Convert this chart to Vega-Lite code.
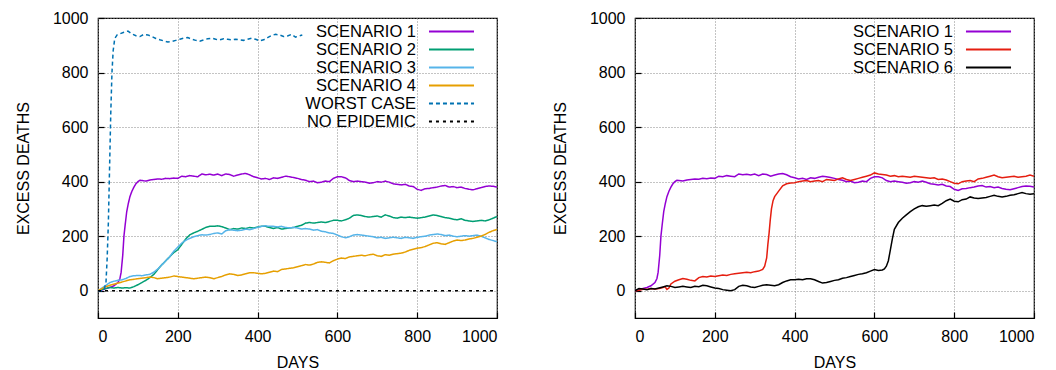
{
  "$schema": "https://vega.github.io/schema/vega-lite/v6.json",
  "padding": {"left": 14, "top": 9, "right": 5, "bottom": 0},
  "background": "white",
  "config": {
    "font": "Liberation Sans",
    "view": {"stroke": "black", "strokeWidth": 1.2},
    "axis": {
      "labelFont": "Liberation Sans", "labelFontSize": 16, "labelColor": "black", "format": "d",
      "titleFont": "Liberation Sans", "titleFontSize": 16, "titleFontWeight": "normal", "titleColor": "black",
      "grid": true, "gridColor": "#888888", "gridDash": [1, 2], "gridWidth": 1, "gridOpacity": 1,
      "domain": false, "ticks": true, "tickColor": "black", "tickSize": -6, "tickWidth": 1.2
    },
    "axisX": {"labelPadding": 16, "titlePadding": 10, "labelFontSize": 16},
    "axisY": {"labelPadding": 16, "titlePadding": 21, "labelFontSize": 16},
    "legend": {
      "orient": "none", "legendX": 342, "legendY": 2, "title": null, "padding": 2,
      "labelFont": "Liberation Sans", "labelFontSize": 16.5, "labelColor": "black",
      "symbolType": "M-2.65,0H2.65", "symbolSize": 289, "symbolStrokeWidth": 2,
      "labelAlign": "right", "labelOffset": -45, "rowPadding": 0, "labelLimit": 300
    }
  },
  "spacing": 52,
  "resolve": {"scale": {"color": "independent", "strokeDash": "independent"}, "legend": {"color": "independent", "strokeDash": "independent"}},
  "datasets": {
    "left": [
      {"series":"SCENARIO 1","day":0,"deaths":0},{"series":"SCENARIO 1","day":10,"deaths":3},{"series":"SCENARIO 1","day":20,"deaths":8},{"series":"SCENARIO 1","day":30,"deaths":12},{"series":"SCENARIO 1","day":40,"deaths":18},{"series":"SCENARIO 1","day":50,"deaths":30},{"series":"SCENARIO 1","day":55,"deaths":45},{"series":"SCENARIO 1","day":58,"deaths":68},{"series":"SCENARIO 1","day":62,"deaths":130},{"series":"SCENARIO 1","day":65,"deaths":200},{"series":"SCENARIO 1","day":68,"deaths":240},{"series":"SCENARIO 1","day":72,"deaths":290},{"series":"SCENARIO 1","day":76,"deaths":320},{"series":"SCENARIO 1","day":80,"deaths":345},{"series":"SCENARIO 1","day":85,"deaths":365},{"series":"SCENARIO 1","day":90,"deaths":380},{"series":"SCENARIO 1","day":95,"deaths":392},{"series":"SCENARIO 1","day":100,"deaths":400},{"series":"SCENARIO 1","day":105,"deaths":405},{"series":"SCENARIO 1","day":110,"deaths":404},{"series":"SCENARIO 1","day":120,"deaths":402},{"series":"SCENARIO 1","day":130,"deaths":406},{"series":"SCENARIO 1","day":140,"deaths":408},{"series":"SCENARIO 1","day":150,"deaths":410},{"series":"SCENARIO 1","day":160,"deaths":409},{"series":"SCENARIO 1","day":170,"deaths":412},{"series":"SCENARIO 1","day":180,"deaths":411},{"series":"SCENARIO 1","day":190,"deaths":413},{"series":"SCENARIO 1","day":200,"deaths":412},{"series":"SCENARIO 1","day":210,"deaths":420},{"series":"SCENARIO 1","day":220,"deaths":418},{"series":"SCENARIO 1","day":230,"deaths":422},{"series":"SCENARIO 1","day":240,"deaths":420},{"series":"SCENARIO 1","day":250,"deaths":418},{"series":"SCENARIO 1","day":260,"deaths":428},{"series":"SCENARIO 1","day":270,"deaths":425},{"series":"SCENARIO 1","day":280,"deaths":427},{"series":"SCENARIO 1","day":290,"deaths":424},{"series":"SCENARIO 1","day":300,"deaths":428},{"series":"SCENARIO 1","day":310,"deaths":422},{"series":"SCENARIO 1","day":320,"deaths":428},{"series":"SCENARIO 1","day":330,"deaths":426},{"series":"SCENARIO 1","day":340,"deaths":420},{"series":"SCENARIO 1","day":350,"deaths":424},{"series":"SCENARIO 1","day":360,"deaths":428},{"series":"SCENARIO 1","day":370,"deaths":430},{"series":"SCENARIO 1","day":380,"deaths":425},{"series":"SCENARIO 1","day":390,"deaths":418},{"series":"SCENARIO 1","day":400,"deaths":414},{"series":"SCENARIO 1","day":410,"deaths":410},{"series":"SCENARIO 1","day":420,"deaths":412},{"series":"SCENARIO 1","day":430,"deaths":408},{"series":"SCENARIO 1","day":440,"deaths":414},{"series":"SCENARIO 1","day":450,"deaths":412},{"series":"SCENARIO 1","day":460,"deaths":416},{"series":"SCENARIO 1","day":470,"deaths":420},{"series":"SCENARIO 1","day":480,"deaths":418},{"series":"SCENARIO 1","day":490,"deaths":415},{"series":"SCENARIO 1","day":500,"deaths":412},{"series":"SCENARIO 1","day":510,"deaths":408},{"series":"SCENARIO 1","day":520,"deaths":405},{"series":"SCENARIO 1","day":530,"deaths":400},{"series":"SCENARIO 1","day":540,"deaths":402},{"series":"SCENARIO 1","day":550,"deaths":396},{"series":"SCENARIO 1","day":560,"deaths":398},{"series":"SCENARIO 1","day":570,"deaths":402},{"series":"SCENARIO 1","day":580,"deaths":400},{"series":"SCENARIO 1","day":590,"deaths":412},{"series":"SCENARIO 1","day":600,"deaths":418},{"series":"SCENARIO 1","day":610,"deaths":418},{"series":"SCENARIO 1","day":620,"deaths":414},{"series":"SCENARIO 1","day":630,"deaths":404},{"series":"SCENARIO 1","day":640,"deaths":400},{"series":"SCENARIO 1","day":650,"deaths":402},{"series":"SCENARIO 1","day":660,"deaths":400},{"series":"SCENARIO 1","day":670,"deaths":398},{"series":"SCENARIO 1","day":680,"deaths":394},{"series":"SCENARIO 1","day":690,"deaths":396},{"series":"SCENARIO 1","day":700,"deaths":400},{"series":"SCENARIO 1","day":710,"deaths":398},{"series":"SCENARIO 1","day":720,"deaths":402},{"series":"SCENARIO 1","day":730,"deaths":398},{"series":"SCENARIO 1","day":740,"deaths":392},{"series":"SCENARIO 1","day":750,"deaths":390},{"series":"SCENARIO 1","day":760,"deaths":388},{"series":"SCENARIO 1","day":770,"deaths":390},{"series":"SCENARIO 1","day":780,"deaths":384},{"series":"SCENARIO 1","day":790,"deaths":382},{"series":"SCENARIO 1","day":800,"deaths":372},{"series":"SCENARIO 1","day":810,"deaths":368},{"series":"SCENARIO 1","day":820,"deaths":374},{"series":"SCENARIO 1","day":830,"deaths":375},{"series":"SCENARIO 1","day":840,"deaths":378},{"series":"SCENARIO 1","day":850,"deaths":380},{"series":"SCENARIO 1","day":860,"deaths":384},{"series":"SCENARIO 1","day":870,"deaths":386},{"series":"SCENARIO 1","day":880,"deaths":380},{"series":"SCENARIO 1","day":890,"deaths":382},{"series":"SCENARIO 1","day":900,"deaths":378},{"series":"SCENARIO 1","day":910,"deaths":380},{"series":"SCENARIO 1","day":920,"deaths":375},{"series":"SCENARIO 1","day":930,"deaths":372},{"series":"SCENARIO 1","day":940,"deaths":370},{"series":"SCENARIO 1","day":950,"deaths":374},{"series":"SCENARIO 1","day":960,"deaths":378},{"series":"SCENARIO 1","day":970,"deaths":382},{"series":"SCENARIO 1","day":980,"deaths":384},{"series":"SCENARIO 1","day":990,"deaths":383},{"series":"SCENARIO 1","day":1000,"deaths":380},
      {"series":"SCENARIO 2","day":0,"deaths":0},{"series":"SCENARIO 2","day":10,"deaths":5},{"series":"SCENARIO 2","day":20,"deaths":8},{"series":"SCENARIO 2","day":30,"deaths":12},{"series":"SCENARIO 2","day":40,"deaths":10},{"series":"SCENARIO 2","day":50,"deaths":12},{"series":"SCENARIO 2","day":60,"deaths":10},{"series":"SCENARIO 2","day":70,"deaths":11},{"series":"SCENARIO 2","day":80,"deaths":10},{"series":"SCENARIO 2","day":90,"deaths":15},{"series":"SCENARIO 2","day":100,"deaths":22},{"series":"SCENARIO 2","day":110,"deaths":30},{"series":"SCENARIO 2","day":120,"deaths":38},{"series":"SCENARIO 2","day":130,"deaths":48},{"series":"SCENARIO 2","day":140,"deaths":60},{"series":"SCENARIO 2","day":150,"deaths":78},{"series":"SCENARIO 2","day":160,"deaths":95},{"series":"SCENARIO 2","day":170,"deaths":110},{"series":"SCENARIO 2","day":180,"deaths":125},{"series":"SCENARIO 2","day":190,"deaths":140},{"series":"SCENARIO 2","day":200,"deaths":150},{"series":"SCENARIO 2","day":210,"deaths":170},{"series":"SCENARIO 2","day":220,"deaths":190},{"series":"SCENARIO 2","day":230,"deaths":205},{"series":"SCENARIO 2","day":240,"deaths":212},{"series":"SCENARIO 2","day":250,"deaths":218},{"series":"SCENARIO 2","day":260,"deaths":225},{"series":"SCENARIO 2","day":270,"deaths":232},{"series":"SCENARIO 2","day":280,"deaths":236},{"series":"SCENARIO 2","day":290,"deaths":236},{"series":"SCENARIO 2","day":300,"deaths":238},{"series":"SCENARIO 2","day":310,"deaths":235},{"series":"SCENARIO 2","day":320,"deaths":230},{"series":"SCENARIO 2","day":330,"deaths":224},{"series":"SCENARIO 2","day":340,"deaths":228},{"series":"SCENARIO 2","day":350,"deaths":226},{"series":"SCENARIO 2","day":360,"deaths":230},{"series":"SCENARIO 2","day":370,"deaths":228},{"series":"SCENARIO 2","day":380,"deaths":232},{"series":"SCENARIO 2","day":390,"deaths":230},{"series":"SCENARIO 2","day":400,"deaths":234},{"series":"SCENARIO 2","day":410,"deaths":236},{"series":"SCENARIO 2","day":420,"deaths":236},{"series":"SCENARIO 2","day":430,"deaths":232},{"series":"SCENARIO 2","day":440,"deaths":228},{"series":"SCENARIO 2","day":450,"deaths":232},{"series":"SCENARIO 2","day":460,"deaths":226},{"series":"SCENARIO 2","day":470,"deaths":228},{"series":"SCENARIO 2","day":480,"deaths":230},{"series":"SCENARIO 2","day":490,"deaths":232},{"series":"SCENARIO 2","day":500,"deaths":236},{"series":"SCENARIO 2","day":510,"deaths":240},{"series":"SCENARIO 2","day":520,"deaths":248},{"series":"SCENARIO 2","day":530,"deaths":250},{"series":"SCENARIO 2","day":540,"deaths":248},{"series":"SCENARIO 2","day":550,"deaths":250},{"series":"SCENARIO 2","day":560,"deaths":252},{"series":"SCENARIO 2","day":570,"deaths":250},{"series":"SCENARIO 2","day":580,"deaths":254},{"series":"SCENARIO 2","day":590,"deaths":258},{"series":"SCENARIO 2","day":600,"deaths":258},{"series":"SCENARIO 2","day":610,"deaths":256},{"series":"SCENARIO 2","day":620,"deaths":260},{"series":"SCENARIO 2","day":630,"deaths":266},{"series":"SCENARIO 2","day":640,"deaths":276},{"series":"SCENARIO 2","day":650,"deaths":278},{"series":"SCENARIO 2","day":660,"deaths":276},{"series":"SCENARIO 2","day":670,"deaths":272},{"series":"SCENARIO 2","day":680,"deaths":270},{"series":"SCENARIO 2","day":690,"deaths":272},{"series":"SCENARIO 2","day":700,"deaths":274},{"series":"SCENARIO 2","day":710,"deaths":270},{"series":"SCENARIO 2","day":720,"deaths":278},{"series":"SCENARIO 2","day":730,"deaths":274},{"series":"SCENARIO 2","day":740,"deaths":268},{"series":"SCENARIO 2","day":750,"deaths":266},{"series":"SCENARIO 2","day":760,"deaths":270},{"series":"SCENARIO 2","day":770,"deaths":268},{"series":"SCENARIO 2","day":780,"deaths":270},{"series":"SCENARIO 2","day":790,"deaths":268},{"series":"SCENARIO 2","day":800,"deaths":266},{"series":"SCENARIO 2","day":810,"deaths":268},{"series":"SCENARIO 2","day":820,"deaths":270},{"series":"SCENARIO 2","day":830,"deaths":274},{"series":"SCENARIO 2","day":840,"deaths":278},{"series":"SCENARIO 2","day":850,"deaths":276},{"series":"SCENARIO 2","day":860,"deaths":272},{"series":"SCENARIO 2","day":870,"deaths":268},{"series":"SCENARIO 2","day":880,"deaths":266},{"series":"SCENARIO 2","day":890,"deaths":262},{"series":"SCENARIO 2","day":900,"deaths":260},{"series":"SCENARIO 2","day":910,"deaths":264},{"series":"SCENARIO 2","day":920,"deaths":258},{"series":"SCENARIO 2","day":930,"deaths":256},{"series":"SCENARIO 2","day":940,"deaths":254},{"series":"SCENARIO 2","day":950,"deaths":256},{"series":"SCENARIO 2","day":960,"deaths":258},{"series":"SCENARIO 2","day":970,"deaths":256},{"series":"SCENARIO 2","day":980,"deaths":260},{"series":"SCENARIO 2","day":990,"deaths":266},{"series":"SCENARIO 2","day":1000,"deaths":272},
      {"series":"SCENARIO 3","day":0,"deaths":0},{"series":"SCENARIO 3","day":10,"deaths":10},{"series":"SCENARIO 3","day":20,"deaths":20},{"series":"SCENARIO 3","day":30,"deaths":30},{"series":"SCENARIO 3","day":40,"deaths":35},{"series":"SCENARIO 3","day":50,"deaths":38},{"series":"SCENARIO 3","day":60,"deaths":40},{"series":"SCENARIO 3","day":70,"deaths":45},{"series":"SCENARIO 3","day":80,"deaths":52},{"series":"SCENARIO 3","day":90,"deaths":55},{"series":"SCENARIO 3","day":100,"deaths":56},{"series":"SCENARIO 3","day":110,"deaths":55},{"series":"SCENARIO 3","day":120,"deaths":58},{"series":"SCENARIO 3","day":130,"deaths":60},{"series":"SCENARIO 3","day":140,"deaths":68},{"series":"SCENARIO 3","day":150,"deaths":80},{"series":"SCENARIO 3","day":160,"deaths":95},{"series":"SCENARIO 3","day":170,"deaths":110},{"series":"SCENARIO 3","day":180,"deaths":125},{"series":"SCENARIO 3","day":190,"deaths":145},{"series":"SCENARIO 3","day":200,"deaths":160},{"series":"SCENARIO 3","day":210,"deaths":175},{"series":"SCENARIO 3","day":220,"deaths":185},{"series":"SCENARIO 3","day":230,"deaths":192},{"series":"SCENARIO 3","day":240,"deaths":198},{"series":"SCENARIO 3","day":250,"deaths":202},{"series":"SCENARIO 3","day":260,"deaths":205},{"series":"SCENARIO 3","day":270,"deaths":204},{"series":"SCENARIO 3","day":280,"deaths":206},{"series":"SCENARIO 3","day":290,"deaths":210},{"series":"SCENARIO 3","day":300,"deaths":212},{"series":"SCENARIO 3","day":310,"deaths":208},{"series":"SCENARIO 3","day":320,"deaths":220},{"series":"SCENARIO 3","day":330,"deaths":224},{"series":"SCENARIO 3","day":340,"deaths":222},{"series":"SCENARIO 3","day":350,"deaths":220},{"series":"SCENARIO 3","day":360,"deaths":222},{"series":"SCENARIO 3","day":370,"deaths":226},{"series":"SCENARIO 3","day":380,"deaths":224},{"series":"SCENARIO 3","day":390,"deaths":228},{"series":"SCENARIO 3","day":400,"deaths":232},{"series":"SCENARIO 3","day":410,"deaths":236},{"series":"SCENARIO 3","day":420,"deaths":238},{"series":"SCENARIO 3","day":430,"deaths":236},{"series":"SCENARIO 3","day":440,"deaths":236},{"series":"SCENARIO 3","day":450,"deaths":234},{"series":"SCENARIO 3","day":460,"deaths":236},{"series":"SCENARIO 3","day":470,"deaths":232},{"series":"SCENARIO 3","day":480,"deaths":230},{"series":"SCENARIO 3","day":490,"deaths":232},{"series":"SCENARIO 3","day":500,"deaths":230},{"series":"SCENARIO 3","day":510,"deaths":226},{"series":"SCENARIO 3","day":520,"deaths":228},{"series":"SCENARIO 3","day":530,"deaths":226},{"series":"SCENARIO 3","day":540,"deaths":222},{"series":"SCENARIO 3","day":550,"deaths":224},{"series":"SCENARIO 3","day":560,"deaths":218},{"series":"SCENARIO 3","day":570,"deaths":216},{"series":"SCENARIO 3","day":580,"deaths":212},{"series":"SCENARIO 3","day":590,"deaths":210},{"series":"SCENARIO 3","day":600,"deaths":204},{"series":"SCENARIO 3","day":610,"deaths":198},{"series":"SCENARIO 3","day":620,"deaths":194},{"series":"SCENARIO 3","day":630,"deaths":198},{"series":"SCENARIO 3","day":640,"deaths":204},{"series":"SCENARIO 3","day":650,"deaths":206},{"series":"SCENARIO 3","day":660,"deaths":204},{"series":"SCENARIO 3","day":670,"deaths":202},{"series":"SCENARIO 3","day":680,"deaths":200},{"series":"SCENARIO 3","day":690,"deaths":198},{"series":"SCENARIO 3","day":700,"deaths":194},{"series":"SCENARIO 3","day":710,"deaths":196},{"series":"SCENARIO 3","day":720,"deaths":192},{"series":"SCENARIO 3","day":730,"deaths":194},{"series":"SCENARIO 3","day":740,"deaths":196},{"series":"SCENARIO 3","day":750,"deaths":194},{"series":"SCENARIO 3","day":760,"deaths":192},{"series":"SCENARIO 3","day":770,"deaths":196},{"series":"SCENARIO 3","day":780,"deaths":194},{"series":"SCENARIO 3","day":790,"deaths":192},{"series":"SCENARIO 3","day":800,"deaths":196},{"series":"SCENARIO 3","day":810,"deaths":198},{"series":"SCENARIO 3","day":820,"deaths":200},{"series":"SCENARIO 3","day":830,"deaths":204},{"series":"SCENARIO 3","day":840,"deaths":206},{"series":"SCENARIO 3","day":850,"deaths":208},{"series":"SCENARIO 3","day":860,"deaths":206},{"series":"SCENARIO 3","day":870,"deaths":202},{"series":"SCENARIO 3","day":880,"deaths":204},{"series":"SCENARIO 3","day":890,"deaths":200},{"series":"SCENARIO 3","day":900,"deaths":198},{"series":"SCENARIO 3","day":910,"deaths":200},{"series":"SCENARIO 3","day":920,"deaths":202},{"series":"SCENARIO 3","day":930,"deaths":200},{"series":"SCENARIO 3","day":940,"deaths":202},{"series":"SCENARIO 3","day":950,"deaths":204},{"series":"SCENARIO 3","day":960,"deaths":200},{"series":"SCENARIO 3","day":970,"deaths":194},{"series":"SCENARIO 3","day":980,"deaths":188},{"series":"SCENARIO 3","day":990,"deaths":184},{"series":"SCENARIO 3","day":1000,"deaths":180},
      {"series":"SCENARIO 4","day":0,"deaths":0},{"series":"SCENARIO 4","day":10,"deaths":8},{"series":"SCENARIO 4","day":20,"deaths":15},{"series":"SCENARIO 4","day":30,"deaths":20},{"series":"SCENARIO 4","day":40,"deaths":24},{"series":"SCENARIO 4","day":50,"deaths":28},{"series":"SCENARIO 4","day":60,"deaths":32},{"series":"SCENARIO 4","day":70,"deaths":36},{"series":"SCENARIO 4","day":80,"deaths":40},{"series":"SCENARIO 4","day":90,"deaths":42},{"series":"SCENARIO 4","day":100,"deaths":44},{"series":"SCENARIO 4","day":110,"deaths":46},{"series":"SCENARIO 4","day":120,"deaths":48},{"series":"SCENARIO 4","day":130,"deaths":50},{"series":"SCENARIO 4","day":140,"deaths":48},{"series":"SCENARIO 4","day":150,"deaths":44},{"series":"SCENARIO 4","day":160,"deaths":46},{"series":"SCENARIO 4","day":170,"deaths":48},{"series":"SCENARIO 4","day":180,"deaths":50},{"series":"SCENARIO 4","day":190,"deaths":54},{"series":"SCENARIO 4","day":200,"deaths":52},{"series":"SCENARIO 4","day":210,"deaths":50},{"series":"SCENARIO 4","day":220,"deaths":48},{"series":"SCENARIO 4","day":230,"deaths":46},{"series":"SCENARIO 4","day":240,"deaths":44},{"series":"SCENARIO 4","day":250,"deaths":46},{"series":"SCENARIO 4","day":260,"deaths":48},{"series":"SCENARIO 4","day":270,"deaths":50},{"series":"SCENARIO 4","day":280,"deaths":48},{"series":"SCENARIO 4","day":290,"deaths":44},{"series":"SCENARIO 4","day":300,"deaths":48},{"series":"SCENARIO 4","day":310,"deaths":52},{"series":"SCENARIO 4","day":320,"deaths":58},{"series":"SCENARIO 4","day":330,"deaths":62},{"series":"SCENARIO 4","day":340,"deaths":60},{"series":"SCENARIO 4","day":350,"deaths":56},{"series":"SCENARIO 4","day":360,"deaths":58},{"series":"SCENARIO 4","day":370,"deaths":62},{"series":"SCENARIO 4","day":380,"deaths":66},{"series":"SCENARIO 4","day":390,"deaths":66},{"series":"SCENARIO 4","day":400,"deaths":64},{"series":"SCENARIO 4","day":410,"deaths":62},{"series":"SCENARIO 4","day":420,"deaths":64},{"series":"SCENARIO 4","day":430,"deaths":68},{"series":"SCENARIO 4","day":440,"deaths":72},{"series":"SCENARIO 4","day":450,"deaths":70},{"series":"SCENARIO 4","day":460,"deaths":78},{"series":"SCENARIO 4","day":470,"deaths":80},{"series":"SCENARIO 4","day":480,"deaths":82},{"series":"SCENARIO 4","day":490,"deaths":84},{"series":"SCENARIO 4","day":500,"deaths":88},{"series":"SCENARIO 4","day":510,"deaths":92},{"series":"SCENARIO 4","day":520,"deaths":96},{"series":"SCENARIO 4","day":530,"deaths":94},{"series":"SCENARIO 4","day":540,"deaths":98},{"series":"SCENARIO 4","day":550,"deaths":104},{"series":"SCENARIO 4","day":560,"deaths":106},{"series":"SCENARIO 4","day":570,"deaths":104},{"series":"SCENARIO 4","day":580,"deaths":102},{"series":"SCENARIO 4","day":590,"deaths":110},{"series":"SCENARIO 4","day":600,"deaths":116},{"series":"SCENARIO 4","day":610,"deaths":120},{"series":"SCENARIO 4","day":620,"deaths":118},{"series":"SCENARIO 4","day":630,"deaths":124},{"series":"SCENARIO 4","day":640,"deaths":126},{"series":"SCENARIO 4","day":650,"deaths":128},{"series":"SCENARIO 4","day":660,"deaths":130},{"series":"SCENARIO 4","day":670,"deaths":128},{"series":"SCENARIO 4","day":680,"deaths":132},{"series":"SCENARIO 4","day":690,"deaths":134},{"series":"SCENARIO 4","day":700,"deaths":128},{"series":"SCENARIO 4","day":710,"deaths":126},{"series":"SCENARIO 4","day":720,"deaths":132},{"series":"SCENARIO 4","day":730,"deaths":130},{"series":"SCENARIO 4","day":740,"deaths":134},{"series":"SCENARIO 4","day":750,"deaths":136},{"series":"SCENARIO 4","day":760,"deaths":138},{"series":"SCENARIO 4","day":770,"deaths":142},{"series":"SCENARIO 4","day":780,"deaths":148},{"series":"SCENARIO 4","day":790,"deaths":152},{"series":"SCENARIO 4","day":800,"deaths":156},{"series":"SCENARIO 4","day":810,"deaths":158},{"series":"SCENARIO 4","day":820,"deaths":162},{"series":"SCENARIO 4","day":830,"deaths":168},{"series":"SCENARIO 4","day":840,"deaths":174},{"series":"SCENARIO 4","day":850,"deaths":176},{"series":"SCENARIO 4","day":860,"deaths":172},{"series":"SCENARIO 4","day":870,"deaths":170},{"series":"SCENARIO 4","day":880,"deaths":176},{"series":"SCENARIO 4","day":890,"deaths":182},{"series":"SCENARIO 4","day":900,"deaths":186},{"series":"SCENARIO 4","day":910,"deaths":184},{"series":"SCENARIO 4","day":920,"deaths":186},{"series":"SCENARIO 4","day":930,"deaths":190},{"series":"SCENARIO 4","day":940,"deaths":192},{"series":"SCENARIO 4","day":950,"deaths":196},{"series":"SCENARIO 4","day":960,"deaths":200},{"series":"SCENARIO 4","day":970,"deaths":206},{"series":"SCENARIO 4","day":980,"deaths":214},{"series":"SCENARIO 4","day":990,"deaths":220},{"series":"SCENARIO 4","day":1000,"deaths":225},
      {"series":"WORST CASE","day":0,"deaths":0},{"series":"WORST CASE","day":10,"deaths":0},{"series":"WORST CASE","day":15,"deaths":2},{"series":"WORST CASE","day":20,"deaths":30},{"series":"WORST CASE","day":23,"deaths":120},{"series":"WORST CASE","day":26,"deaths":250},{"series":"WORST CASE","day":29,"deaths":450},{"series":"WORST CASE","day":32,"deaths":650},{"series":"WORST CASE","day":35,"deaths":800},{"series":"WORST CASE","day":38,"deaths":880},{"series":"WORST CASE","day":42,"deaths":925},{"series":"WORST CASE","day":48,"deaths":938},{"series":"WORST CASE","day":55,"deaths":942},{"series":"WORST CASE","day":65,"deaths":948},{"series":"WORST CASE","day":75,"deaths":952},{"series":"WORST CASE","day":85,"deaths":942},{"series":"WORST CASE","day":95,"deaths":935},{"series":"WORST CASE","day":105,"deaths":932},{"series":"WORST CASE","day":115,"deaths":940},{"series":"WORST CASE","day":125,"deaths":938},{"series":"WORST CASE","day":135,"deaths":932},{"series":"WORST CASE","day":145,"deaths":925},{"series":"WORST CASE","day":155,"deaths":920},{"series":"WORST CASE","day":165,"deaths":916},{"series":"WORST CASE","day":175,"deaths":912},{"series":"WORST CASE","day":185,"deaths":914},{"series":"WORST CASE","day":195,"deaths":918},{"series":"WORST CASE","day":205,"deaths":922},{"series":"WORST CASE","day":215,"deaths":926},{"series":"WORST CASE","day":225,"deaths":928},{"series":"WORST CASE","day":235,"deaths":922},{"series":"WORST CASE","day":245,"deaths":918},{"series":"WORST CASE","day":255,"deaths":915},{"series":"WORST CASE","day":265,"deaths":920},{"series":"WORST CASE","day":275,"deaths":924},{"series":"WORST CASE","day":285,"deaths":926},{"series":"WORST CASE","day":295,"deaths":922},{"series":"WORST CASE","day":305,"deaths":920},{"series":"WORST CASE","day":315,"deaths":924},{"series":"WORST CASE","day":325,"deaths":922},{"series":"WORST CASE","day":335,"deaths":920},{"series":"WORST CASE","day":345,"deaths":922},{"series":"WORST CASE","day":355,"deaths":920},{"series":"WORST CASE","day":365,"deaths":918},{"series":"WORST CASE","day":375,"deaths":922},{"series":"WORST CASE","day":385,"deaths":926},{"series":"WORST CASE","day":395,"deaths":922},{"series":"WORST CASE","day":405,"deaths":916},{"series":"WORST CASE","day":415,"deaths":920},{"series":"WORST CASE","day":425,"deaths":928},{"series":"WORST CASE","day":435,"deaths":936},{"series":"WORST CASE","day":445,"deaths":940},{"series":"WORST CASE","day":455,"deaths":938},{"series":"WORST CASE","day":465,"deaths":932},{"series":"WORST CASE","day":475,"deaths":934},{"series":"WORST CASE","day":485,"deaths":940},{"series":"WORST CASE","day":495,"deaths":930},{"series":"WORST CASE","day":505,"deaths":935},{"series":"WORST CASE","day":512,"deaths":938},
      {"series":"NO EPIDEMIC","day":0,"deaths":0},{"series":"NO EPIDEMIC","day":1000,"deaths":0}
    ],
    "right": [
      {"series":"SCENARIO 1","day":0,"deaths":0},{"series":"SCENARIO 1","day":10,"deaths":3},{"series":"SCENARIO 1","day":20,"deaths":8},{"series":"SCENARIO 1","day":30,"deaths":12},{"series":"SCENARIO 1","day":40,"deaths":18},{"series":"SCENARIO 1","day":50,"deaths":30},{"series":"SCENARIO 1","day":55,"deaths":45},{"series":"SCENARIO 1","day":58,"deaths":68},{"series":"SCENARIO 1","day":62,"deaths":130},{"series":"SCENARIO 1","day":65,"deaths":200},{"series":"SCENARIO 1","day":68,"deaths":240},{"series":"SCENARIO 1","day":72,"deaths":290},{"series":"SCENARIO 1","day":76,"deaths":320},{"series":"SCENARIO 1","day":80,"deaths":345},{"series":"SCENARIO 1","day":85,"deaths":365},{"series":"SCENARIO 1","day":90,"deaths":380},{"series":"SCENARIO 1","day":95,"deaths":392},{"series":"SCENARIO 1","day":100,"deaths":400},{"series":"SCENARIO 1","day":105,"deaths":405},{"series":"SCENARIO 1","day":110,"deaths":404},{"series":"SCENARIO 1","day":120,"deaths":402},{"series":"SCENARIO 1","day":130,"deaths":406},{"series":"SCENARIO 1","day":140,"deaths":408},{"series":"SCENARIO 1","day":150,"deaths":410},{"series":"SCENARIO 1","day":160,"deaths":409},{"series":"SCENARIO 1","day":170,"deaths":412},{"series":"SCENARIO 1","day":180,"deaths":411},{"series":"SCENARIO 1","day":190,"deaths":413},{"series":"SCENARIO 1","day":200,"deaths":412},{"series":"SCENARIO 1","day":210,"deaths":420},{"series":"SCENARIO 1","day":220,"deaths":418},{"series":"SCENARIO 1","day":230,"deaths":422},{"series":"SCENARIO 1","day":240,"deaths":420},{"series":"SCENARIO 1","day":250,"deaths":418},{"series":"SCENARIO 1","day":260,"deaths":428},{"series":"SCENARIO 1","day":270,"deaths":425},{"series":"SCENARIO 1","day":280,"deaths":427},{"series":"SCENARIO 1","day":290,"deaths":424},{"series":"SCENARIO 1","day":300,"deaths":428},{"series":"SCENARIO 1","day":310,"deaths":422},{"series":"SCENARIO 1","day":320,"deaths":428},{"series":"SCENARIO 1","day":330,"deaths":426},{"series":"SCENARIO 1","day":340,"deaths":420},{"series":"SCENARIO 1","day":350,"deaths":424},{"series":"SCENARIO 1","day":360,"deaths":428},{"series":"SCENARIO 1","day":370,"deaths":430},{"series":"SCENARIO 1","day":380,"deaths":425},{"series":"SCENARIO 1","day":390,"deaths":418},{"series":"SCENARIO 1","day":400,"deaths":414},{"series":"SCENARIO 1","day":410,"deaths":410},{"series":"SCENARIO 1","day":420,"deaths":412},{"series":"SCENARIO 1","day":430,"deaths":408},{"series":"SCENARIO 1","day":440,"deaths":414},{"series":"SCENARIO 1","day":450,"deaths":412},{"series":"SCENARIO 1","day":460,"deaths":416},{"series":"SCENARIO 1","day":470,"deaths":420},{"series":"SCENARIO 1","day":480,"deaths":418},{"series":"SCENARIO 1","day":490,"deaths":415},{"series":"SCENARIO 1","day":500,"deaths":412},{"series":"SCENARIO 1","day":510,"deaths":408},{"series":"SCENARIO 1","day":520,"deaths":405},{"series":"SCENARIO 1","day":530,"deaths":400},{"series":"SCENARIO 1","day":540,"deaths":402},{"series":"SCENARIO 1","day":550,"deaths":396},{"series":"SCENARIO 1","day":560,"deaths":398},{"series":"SCENARIO 1","day":570,"deaths":402},{"series":"SCENARIO 1","day":580,"deaths":400},{"series":"SCENARIO 1","day":590,"deaths":412},{"series":"SCENARIO 1","day":600,"deaths":418},{"series":"SCENARIO 1","day":610,"deaths":418},{"series":"SCENARIO 1","day":620,"deaths":414},{"series":"SCENARIO 1","day":630,"deaths":404},{"series":"SCENARIO 1","day":640,"deaths":400},{"series":"SCENARIO 1","day":650,"deaths":402},{"series":"SCENARIO 1","day":660,"deaths":400},{"series":"SCENARIO 1","day":670,"deaths":398},{"series":"SCENARIO 1","day":680,"deaths":394},{"series":"SCENARIO 1","day":690,"deaths":396},{"series":"SCENARIO 1","day":700,"deaths":400},{"series":"SCENARIO 1","day":710,"deaths":398},{"series":"SCENARIO 1","day":720,"deaths":402},{"series":"SCENARIO 1","day":730,"deaths":398},{"series":"SCENARIO 1","day":740,"deaths":392},{"series":"SCENARIO 1","day":750,"deaths":390},{"series":"SCENARIO 1","day":760,"deaths":388},{"series":"SCENARIO 1","day":770,"deaths":390},{"series":"SCENARIO 1","day":780,"deaths":384},{"series":"SCENARIO 1","day":790,"deaths":382},{"series":"SCENARIO 1","day":800,"deaths":372},{"series":"SCENARIO 1","day":810,"deaths":368},{"series":"SCENARIO 1","day":820,"deaths":374},{"series":"SCENARIO 1","day":830,"deaths":375},{"series":"SCENARIO 1","day":840,"deaths":378},{"series":"SCENARIO 1","day":850,"deaths":380},{"series":"SCENARIO 1","day":860,"deaths":384},{"series":"SCENARIO 1","day":870,"deaths":386},{"series":"SCENARIO 1","day":880,"deaths":380},{"series":"SCENARIO 1","day":890,"deaths":382},{"series":"SCENARIO 1","day":900,"deaths":378},{"series":"SCENARIO 1","day":910,"deaths":380},{"series":"SCENARIO 1","day":920,"deaths":375},{"series":"SCENARIO 1","day":930,"deaths":372},{"series":"SCENARIO 1","day":940,"deaths":370},{"series":"SCENARIO 1","day":950,"deaths":374},{"series":"SCENARIO 1","day":960,"deaths":378},{"series":"SCENARIO 1","day":970,"deaths":382},{"series":"SCENARIO 1","day":980,"deaths":384},{"series":"SCENARIO 1","day":990,"deaths":383},{"series":"SCENARIO 1","day":1000,"deaths":380},
      {"series":"SCENARIO 5","day":0,"deaths":0},{"series":"SCENARIO 5","day":10,"deaths":2},{"series":"SCENARIO 5","day":20,"deaths":5},{"series":"SCENARIO 5","day":30,"deaths":5},{"series":"SCENARIO 5","day":40,"deaths":8},{"series":"SCENARIO 5","day":50,"deaths":6},{"series":"SCENARIO 5","day":60,"deaths":8},{"series":"SCENARIO 5","day":70,"deaths":12},{"series":"SCENARIO 5","day":75,"deaths":15},{"series":"SCENARIO 5","day":80,"deaths":5},{"series":"SCENARIO 5","day":85,"deaths":10},{"series":"SCENARIO 5","day":90,"deaths":25},{"series":"SCENARIO 5","day":100,"deaths":35},{"series":"SCENARIO 5","day":110,"deaths":40},{"series":"SCENARIO 5","day":120,"deaths":45},{"series":"SCENARIO 5","day":130,"deaths":42},{"series":"SCENARIO 5","day":140,"deaths":38},{"series":"SCENARIO 5","day":150,"deaths":36},{"series":"SCENARIO 5","day":160,"deaths":48},{"series":"SCENARIO 5","day":170,"deaths":52},{"series":"SCENARIO 5","day":180,"deaths":50},{"series":"SCENARIO 5","day":190,"deaths":54},{"series":"SCENARIO 5","day":200,"deaths":52},{"series":"SCENARIO 5","day":210,"deaths":55},{"series":"SCENARIO 5","day":220,"deaths":58},{"series":"SCENARIO 5","day":230,"deaths":56},{"series":"SCENARIO 5","day":240,"deaths":60},{"series":"SCENARIO 5","day":250,"deaths":62},{"series":"SCENARIO 5","day":260,"deaths":64},{"series":"SCENARIO 5","day":270,"deaths":66},{"series":"SCENARIO 5","day":280,"deaths":68},{"series":"SCENARIO 5","day":290,"deaths":66},{"series":"SCENARIO 5","day":300,"deaths":70},{"series":"SCENARIO 5","day":310,"deaths":72},{"series":"SCENARIO 5","day":320,"deaths":78},{"series":"SCENARIO 5","day":325,"deaths":90},{"series":"SCENARIO 5","day":330,"deaths":120},{"series":"SCENARIO 5","day":333,"deaths":170},{"series":"SCENARIO 5","day":336,"deaths":210},{"series":"SCENARIO 5","day":339,"deaths":260},{"series":"SCENARIO 5","day":342,"deaths":300},{"series":"SCENARIO 5","day":346,"deaths":330},{"series":"SCENARIO 5","day":350,"deaths":345},{"series":"SCENARIO 5","day":360,"deaths":365},{"series":"SCENARIO 5","day":370,"deaths":385},{"series":"SCENARIO 5","day":380,"deaths":392},{"series":"SCENARIO 5","day":390,"deaths":395},{"series":"SCENARIO 5","day":400,"deaths":396},{"series":"SCENARIO 5","day":410,"deaths":400},{"series":"SCENARIO 5","day":420,"deaths":402},{"series":"SCENARIO 5","day":430,"deaths":404},{"series":"SCENARIO 5","day":440,"deaths":400},{"series":"SCENARIO 5","day":450,"deaths":402},{"series":"SCENARIO 5","day":460,"deaths":404},{"series":"SCENARIO 5","day":470,"deaths":400},{"series":"SCENARIO 5","day":480,"deaths":408},{"series":"SCENARIO 5","day":490,"deaths":406},{"series":"SCENARIO 5","day":500,"deaths":404},{"series":"SCENARIO 5","day":510,"deaths":410},{"series":"SCENARIO 5","day":520,"deaths":414},{"series":"SCENARIO 5","day":530,"deaths":408},{"series":"SCENARIO 5","day":540,"deaths":404},{"series":"SCENARIO 5","day":550,"deaths":408},{"series":"SCENARIO 5","day":560,"deaths":412},{"series":"SCENARIO 5","day":570,"deaths":416},{"series":"SCENARIO 5","day":580,"deaths":420},{"series":"SCENARIO 5","day":590,"deaths":424},{"series":"SCENARIO 5","day":600,"deaths":432},{"series":"SCENARIO 5","day":610,"deaths":428},{"series":"SCENARIO 5","day":620,"deaths":426},{"series":"SCENARIO 5","day":630,"deaths":424},{"series":"SCENARIO 5","day":640,"deaths":420},{"series":"SCENARIO 5","day":650,"deaths":422},{"series":"SCENARIO 5","day":660,"deaths":418},{"series":"SCENARIO 5","day":670,"deaths":420},{"series":"SCENARIO 5","day":680,"deaths":418},{"series":"SCENARIO 5","day":690,"deaths":416},{"series":"SCENARIO 5","day":700,"deaths":420},{"series":"SCENARIO 5","day":710,"deaths":418},{"series":"SCENARIO 5","day":720,"deaths":416},{"series":"SCENARIO 5","day":730,"deaths":414},{"series":"SCENARIO 5","day":740,"deaths":412},{"series":"SCENARIO 5","day":750,"deaths":414},{"series":"SCENARIO 5","day":760,"deaths":408},{"series":"SCENARIO 5","day":770,"deaths":410},{"series":"SCENARIO 5","day":780,"deaths":406},{"series":"SCENARIO 5","day":790,"deaths":400},{"series":"SCENARIO 5","day":800,"deaths":394},{"series":"SCENARIO 5","day":810,"deaths":392},{"series":"SCENARIO 5","day":820,"deaths":400},{"series":"SCENARIO 5","day":830,"deaths":402},{"series":"SCENARIO 5","day":840,"deaths":404},{"series":"SCENARIO 5","day":850,"deaths":400},{"series":"SCENARIO 5","day":860,"deaths":410},{"series":"SCENARIO 5","day":870,"deaths":412},{"series":"SCENARIO 5","day":880,"deaths":416},{"series":"SCENARIO 5","day":890,"deaths":420},{"series":"SCENARIO 5","day":900,"deaths":424},{"series":"SCENARIO 5","day":910,"deaths":418},{"series":"SCENARIO 5","day":920,"deaths":414},{"series":"SCENARIO 5","day":930,"deaths":416},{"series":"SCENARIO 5","day":940,"deaths":418},{"series":"SCENARIO 5","day":950,"deaths":420},{"series":"SCENARIO 5","day":960,"deaths":416},{"series":"SCENARIO 5","day":970,"deaths":418},{"series":"SCENARIO 5","day":980,"deaths":420},{"series":"SCENARIO 5","day":990,"deaths":424},{"series":"SCENARIO 5","day":1000,"deaths":420},
      {"series":"SCENARIO 6","day":0,"deaths":0},{"series":"SCENARIO 6","day":10,"deaths":8},{"series":"SCENARIO 6","day":20,"deaths":6},{"series":"SCENARIO 6","day":30,"deaths":4},{"series":"SCENARIO 6","day":40,"deaths":8},{"series":"SCENARIO 6","day":50,"deaths":6},{"series":"SCENARIO 6","day":60,"deaths":10},{"series":"SCENARIO 6","day":70,"deaths":14},{"series":"SCENARIO 6","day":80,"deaths":18},{"series":"SCENARIO 6","day":90,"deaths":16},{"series":"SCENARIO 6","day":100,"deaths":12},{"series":"SCENARIO 6","day":110,"deaths":14},{"series":"SCENARIO 6","day":120,"deaths":16},{"series":"SCENARIO 6","day":130,"deaths":14},{"series":"SCENARIO 6","day":140,"deaths":12},{"series":"SCENARIO 6","day":150,"deaths":16},{"series":"SCENARIO 6","day":160,"deaths":15},{"series":"SCENARIO 6","day":170,"deaths":20},{"series":"SCENARIO 6","day":180,"deaths":18},{"series":"SCENARIO 6","day":190,"deaths":14},{"series":"SCENARIO 6","day":200,"deaths":10},{"series":"SCENARIO 6","day":210,"deaths":8},{"series":"SCENARIO 6","day":220,"deaths":4},{"series":"SCENARIO 6","day":230,"deaths":2},{"series":"SCENARIO 6","day":240,"deaths":0},{"series":"SCENARIO 6","day":250,"deaths":4},{"series":"SCENARIO 6","day":260,"deaths":16},{"series":"SCENARIO 6","day":270,"deaths":20},{"series":"SCENARIO 6","day":280,"deaths":18},{"series":"SCENARIO 6","day":290,"deaths":14},{"series":"SCENARIO 6","day":300,"deaths":12},{"series":"SCENARIO 6","day":310,"deaths":16},{"series":"SCENARIO 6","day":320,"deaths":20},{"series":"SCENARIO 6","day":330,"deaths":22},{"series":"SCENARIO 6","day":340,"deaths":20},{"series":"SCENARIO 6","day":350,"deaths":18},{"series":"SCENARIO 6","day":360,"deaths":22},{"series":"SCENARIO 6","day":370,"deaths":30},{"series":"SCENARIO 6","day":380,"deaths":36},{"series":"SCENARIO 6","day":390,"deaths":40},{"series":"SCENARIO 6","day":400,"deaths":40},{"series":"SCENARIO 6","day":410,"deaths":42},{"series":"SCENARIO 6","day":420,"deaths":40},{"series":"SCENARIO 6","day":430,"deaths":44},{"series":"SCENARIO 6","day":440,"deaths":44},{"series":"SCENARIO 6","day":450,"deaths":40},{"series":"SCENARIO 6","day":460,"deaths":34},{"series":"SCENARIO 6","day":470,"deaths":28},{"series":"SCENARIO 6","day":480,"deaths":30},{"series":"SCENARIO 6","day":490,"deaths":34},{"series":"SCENARIO 6","day":500,"deaths":38},{"series":"SCENARIO 6","day":510,"deaths":40},{"series":"SCENARIO 6","day":520,"deaths":46},{"series":"SCENARIO 6","day":530,"deaths":48},{"series":"SCENARIO 6","day":540,"deaths":52},{"series":"SCENARIO 6","day":550,"deaths":56},{"series":"SCENARIO 6","day":560,"deaths":60},{"series":"SCENARIO 6","day":570,"deaths":62},{"series":"SCENARIO 6","day":580,"deaths":66},{"series":"SCENARIO 6","day":590,"deaths":72},{"series":"SCENARIO 6","day":600,"deaths":78},{"series":"SCENARIO 6","day":610,"deaths":74},{"series":"SCENARIO 6","day":620,"deaths":76},{"series":"SCENARIO 6","day":625,"deaths":80},{"series":"SCENARIO 6","day":630,"deaths":90},{"series":"SCENARIO 6","day":635,"deaths":110},{"series":"SCENARIO 6","day":640,"deaths":150},{"series":"SCENARIO 6","day":645,"deaths":190},{"series":"SCENARIO 6","day":650,"deaths":225},{"series":"SCENARIO 6","day":660,"deaths":250},{"series":"SCENARIO 6","day":670,"deaths":266},{"series":"SCENARIO 6","day":680,"deaths":278},{"series":"SCENARIO 6","day":690,"deaths":290},{"series":"SCENARIO 6","day":700,"deaths":300},{"series":"SCENARIO 6","day":710,"deaths":308},{"series":"SCENARIO 6","day":720,"deaths":312},{"series":"SCENARIO 6","day":730,"deaths":310},{"series":"SCENARIO 6","day":740,"deaths":312},{"series":"SCENARIO 6","day":750,"deaths":314},{"series":"SCENARIO 6","day":760,"deaths":312},{"series":"SCENARIO 6","day":770,"deaths":320},{"series":"SCENARIO 6","day":780,"deaths":330},{"series":"SCENARIO 6","day":790,"deaths":336},{"series":"SCENARIO 6","day":800,"deaths":328},{"series":"SCENARIO 6","day":810,"deaths":326},{"series":"SCENARIO 6","day":820,"deaths":334},{"series":"SCENARIO 6","day":830,"deaths":336},{"series":"SCENARIO 6","day":840,"deaths":344},{"series":"SCENARIO 6","day":850,"deaths":340},{"series":"SCENARIO 6","day":860,"deaths":338},{"series":"SCENARIO 6","day":870,"deaths":340},{"series":"SCENARIO 6","day":880,"deaths":342},{"series":"SCENARIO 6","day":890,"deaths":346},{"series":"SCENARIO 6","day":900,"deaths":350},{"series":"SCENARIO 6","day":910,"deaths":346},{"series":"SCENARIO 6","day":920,"deaths":344},{"series":"SCENARIO 6","day":930,"deaths":346},{"series":"SCENARIO 6","day":940,"deaths":350},{"series":"SCENARIO 6","day":950,"deaths":352},{"series":"SCENARIO 6","day":960,"deaths":356},{"series":"SCENARIO 6","day":970,"deaths":360},{"series":"SCENARIO 6","day":980,"deaths":356},{"series":"SCENARIO 6","day":990,"deaths":354},{"series":"SCENARIO 6","day":1000,"deaths":356}
    ]
  },
  "hconcat": [
    {
      "width": 399, "height": 300,
      "data": {"name": "left"},
      "mark": {"type": "line", "strokeWidth": 1.5, "clip": true},
      "encoding": {
        "x": {"field": "day", "type": "quantitative", "scale": {"domain": [0, 1000], "nice": false}, "axis": {"values": [0, 200, 400, 600, 800, 1000], "title": "DAYS", "labelFontSize": 16}},
        "y": {"field": "deaths", "type": "quantitative", "scale": {"domain": [-100, 1000], "nice": false, "zero": false}, "axis": {"values": [0, 200, 400, 600, 800, 1000], "title": "EXCESS DEATHS", "labelFontSize": 16}},
        "color": {"field": "series", "type": "nominal",
          "scale": {"domain": ["SCENARIO 1", "SCENARIO 2", "SCENARIO 3", "SCENARIO 4", "WORST CASE", "NO EPIDEMIC"], "range": ["#9400d3", "#009e73", "#56b4e9", "#e69f00", "#0072b2", "#000000"]},
          "legend": {"title": null}},
        "strokeDash": {"field": "series", "type": "nominal",
          "scale": {"domain": ["SCENARIO 1", "SCENARIO 2", "SCENARIO 3", "SCENARIO 4", "WORST CASE", "NO EPIDEMIC"], "range": [[1, 0], [1, 0], [1, 0], [1, 0], [4, 3], [3, 4]]},
          "legend": {"title": null}}
      }
    },
    {
      "width": 399, "height": 300,
      "data": {"name": "right"},
      "mark": {"type": "line", "strokeWidth": 1.5, "clip": true},
      "encoding": {
        "x": {"field": "day", "type": "quantitative", "scale": {"domain": [0, 1000], "nice": false}, "axis": {"values": [0, 200, 400, 600, 800, 1000], "title": "DAYS", "labelFontSize": 16}},
        "y": {"field": "deaths", "type": "quantitative", "scale": {"domain": [-100, 1000], "nice": false, "zero": false}, "axis": {"values": [0, 200, 400, 600, 800, 1000], "title": "EXCESS DEATHS", "labelFontSize": 16}},
        "color": {"field": "series", "type": "nominal",
          "scale": {"domain": ["SCENARIO 1", "SCENARIO 5", "SCENARIO 6"], "range": ["#9400d3", "#e51e10", "#000000"]},
          "legend": {"title": null}}
      }
    }
  ]
}
